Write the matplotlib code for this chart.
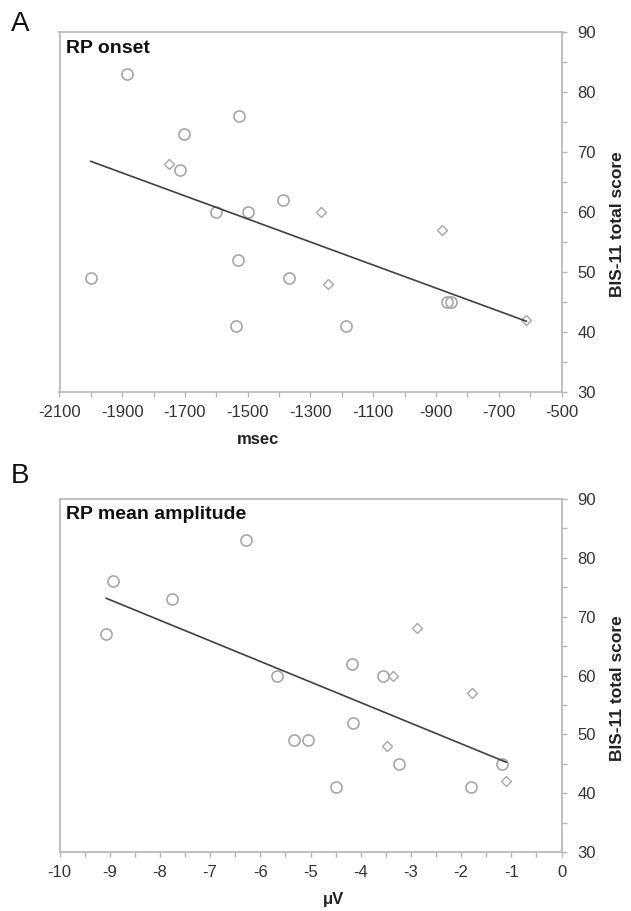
import numpy as np
import matplotlib
matplotlib.use("Agg")
import matplotlib.pyplot as plt
from matplotlib.ticker import MultipleLocator

plt.rcParams['font.family'] = ['Liberation Sans', 'DejaVu Sans']

# Panel A: RP onset (msec) vs BIS-11 total score
a_circle_x = [-1885, -1528, -1703, -1716, -1601, -1500, -1387, -2000, -1532, -1370, -1538, -1188, -864, -851]
a_circle_y = [83, 76, 73, 67, 60, 60, 62, 49, 52, 49, 41, 41, 45, 45]
a_diamond_x = [-1752, -1267, -881, -1245, -612]
a_diamond_y = [68, 60, 57, 48, 42]

# Panel B: RP mean amplitude (µV) vs BIS-11 total score
b_circle_x = [-6.28, -8.93, -7.76, -9.07, -4.17, -5.67, -3.56, -4.15, -5.33, -5.05, -3.24, -1.18, -4.50, -1.80]
b_circle_y = [83, 76, 73, 67, 62, 60, 60, 52, 49, 49, 45, 45, 41, 41]
b_diamond_x = [-2.87, -3.36, -1.78, -3.47, -1.10]
b_diamond_y = [68, 60, 57, 48, 42]

a_xticks = [-2100, -1900, -1700, -1500, -1300, -1100, -900, -700, -500]
b_xticks = [-10, -9, -8, -7, -6, -5, -4, -3, -2, -1, 0]
yticks = [30, 40, 50, 60, 70, 80, 90]

W, H = 631, 911
fig = plt.figure(figsize=(W / 100, H / 100), dpi=100)

spine_c = '#b5b5b5'
mark_c = '#a6a6a6'
text_c = '#333333'


def panel(rect, ax_px_h, cx, cy, dx, dy, xticks, xminor, title, xlabel, xlabel_x, letter, letter_y):
    ax = fig.add_axes(rect)
    ax.plot(cx, cy, linestyle='none', marker='o', markersize=8.0, markerfacecolor='none',
            markeredgecolor=mark_c, markeredgewidth=1.2, zorder=3)
    ax.plot(dx, dy, linestyle='none', marker='D', markersize=5.6, markerfacecolor='none',
            markeredgecolor=mark_c, markeredgewidth=1.0, zorder=3)
    allx = np.array(list(cx) + list(dx), dtype=float)
    ally = np.array(list(cy) + list(dy), dtype=float)
    k, b = np.polyfit(allx, ally, 1)
    xs = np.array([allx.min(), allx.max()])
    ax.plot(xs, k * xs + b, color='#404040', linewidth=1.2, zorder=4)

    ax.set_xlim(xticks[0], xticks[-1])
    ax.set_ylim(yticks[0], yticks[-1])
    ax.set_xticks(xticks)
    ax.set_xticklabels([str(t) for t in xticks])
    ax.xaxis.set_minor_locator(MultipleLocator(xminor))
    ax.set_yticks(yticks)
    ax.yaxis.set_minor_locator(MultipleLocator(5))
    ax.yaxis.tick_right()
    ax.yaxis.set_label_position('right')
    for s in ax.spines.values():
        s.set_color(spine_c)
        s.set_linewidth(1.2)
    ax.tick_params(axis='both', which='both', direction='out', length=3.5, width=1.0,
                   color=spine_c, labelcolor=text_c, labelsize=12)
    ax.tick_params(axis='x', which='both', pad=6)
    ax.tick_params(axis='y', which='both', pad=8, left=False, right=True)

    ax.text(0.012, 0.979, title, transform=ax.transAxes, ha='left', va='top',
            fontsize=14, fontweight='bold', color='#111111')
    ax.set_xlabel(xlabel, fontsize=12, fontweight='bold', color='#222222')
    ax.xaxis.label.set_va('center')
    ax.xaxis.set_label_coords(xlabel_x, -47.5 / ax_px_h)
    ax.set_ylabel('BIS-11 total score', fontsize=12.5, fontweight='bold', color='#222222')
    ax.yaxis.label.set_va('center')
    ax.yaxis.set_label_coords((617 - 59.5) / 502, 0.465)
    fig.text(20 / W, 1 - letter_y / H, letter, ha='center', va='center', fontsize=20, color='#111111')
    return ax


rectA = [59.5 / W, 1 - 392 / H, 502 / W, 360 / H]
rectB = [59.5 / W, 1 - 852 / H, 502 / W, 353 / H]

panel(rectA, 360, a_circle_x, a_circle_y, a_diamond_x, a_diamond_y, a_xticks, 100,
      'RP onset', 'msec', (258 - 59.5) / 502, 'A', 24)
panel(rectB, 353, b_circle_x, b_circle_y, b_diamond_x, b_diamond_y, b_xticks, 0.5,
      'RP mean amplitude', 'μV', (333 - 59.5) / 502, 'B', 476)

fig.savefig('out.png', dpi=100)
